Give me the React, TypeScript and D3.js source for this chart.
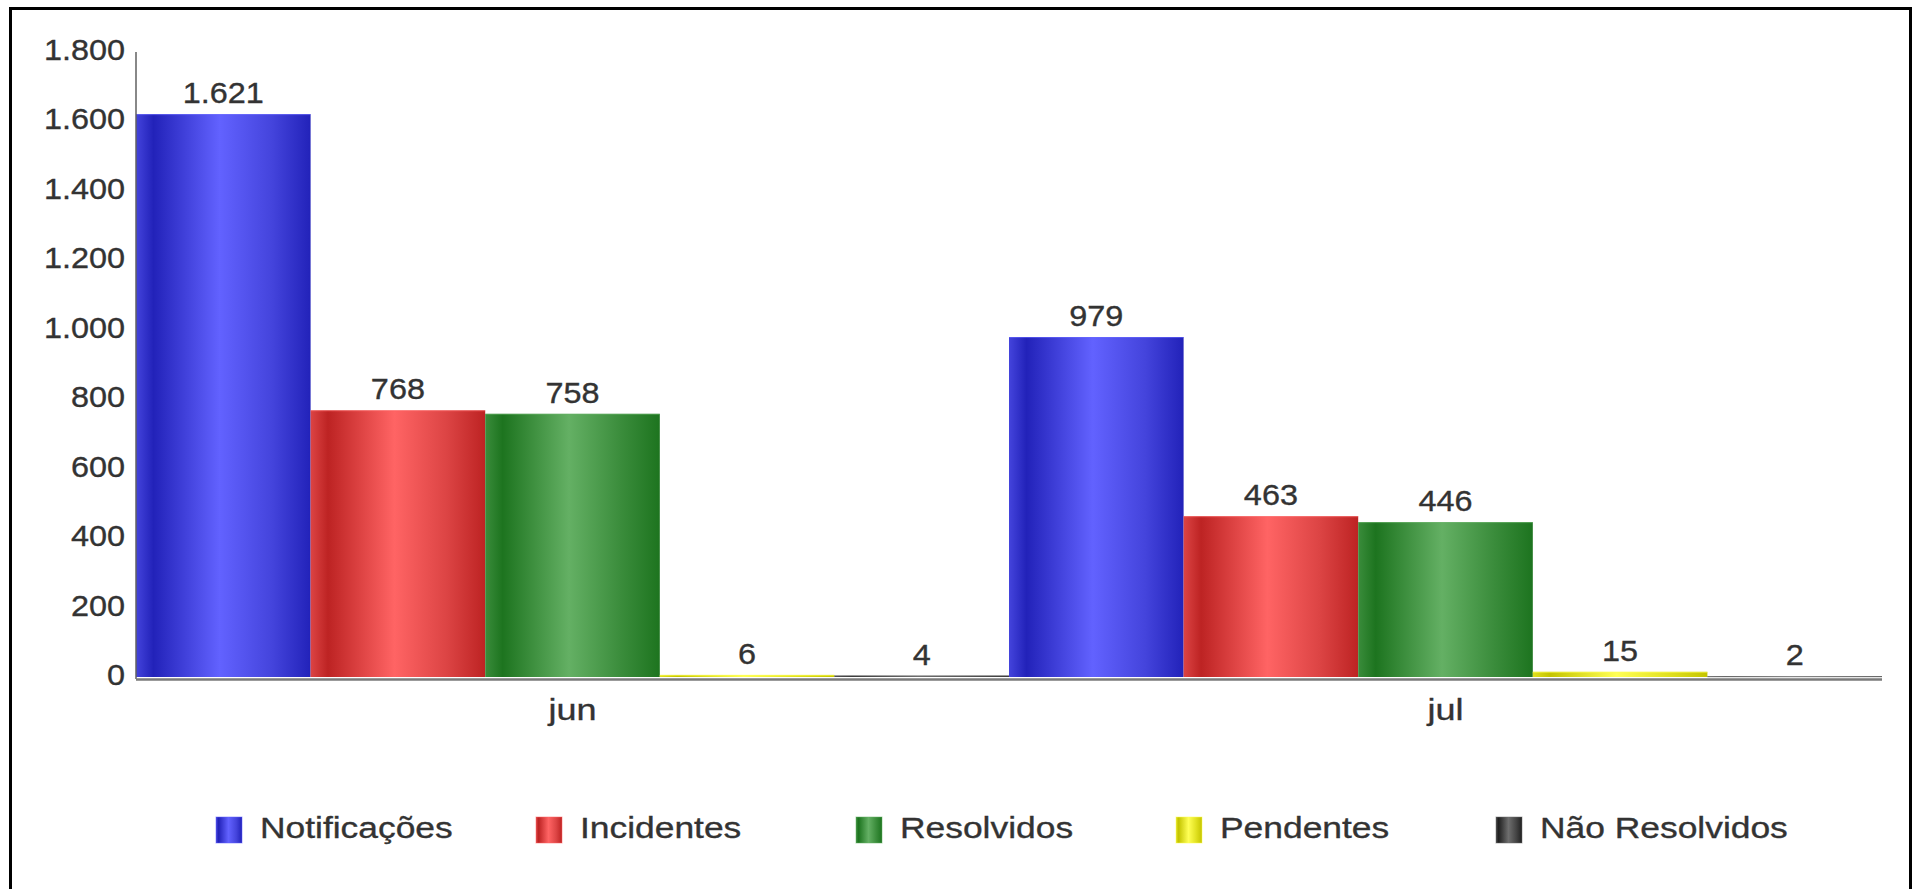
import React from "react";
import * as d3 from "d3";

const categories = ["jun", "jul"];
const seriesNames = ["Notificações", "Incidentes", "Resolvidos", "Pendentes", "Não Resolvidos"];
const notificacoes = [1621, 979];
const incidentes = [768, 463];
const resolvidos = [758, 446];
const pendentes = [6, 15];
const naoResolvidos = [4, 2];
const yTicks = [0, 200, 400, 600, 800, 1000, 1200, 1400, 1600, 1800];
const seriesValues = [notificacoes, incidentes, resolvidos, pendentes, naoResolvidos];

const palette = [
  { dark: "#2222b9", light: "#6262ff", mid: "#4444dc" },
  { dark: "#bd2323", light: "#ff6464", mid: "#dc4444" },
  { dark: "#1d741f", light: "#64b064", mid: "#3a8c3b" },
  { dark: "#c4c400", light: "#ffff55", mid: "#e0e020" },
  { dark: "#202020", light: "#6e6e6e", mid: "#444444" },
];

const W = 1919;
const H = 889;
const plotLeft = 136;
const plotRight = 1882;
const plotTop = 52;
const plotBottom = 677;

const locale = d3.formatLocale({ decimal: ",", thousands: ".", grouping: [3], currency: ["R$", ""] });
const fmt = locale.format(",d");

const FONT = "'Liberation Sans', Arial, Helvetica, sans-serif";
const TEXT = "#333333";

function Txt(props: { x: number; y: number; anchor?: string; sx: number; children: React.ReactNode }) {
  const { x, y, anchor, sx, children } = props;
  return (
    <text
      transform={`translate(${x},${y}) scale(${sx},1)`}
      textAnchor={anchor || "start"}
      fontFamily={FONT}
      fontSize={30}
      fill={TEXT}
      stroke={TEXT}
      strokeWidth={0.35}
    >
      {children}
    </text>
  );
}

export default function App() {
  const x = d3.scaleBand<string>().domain(categories).range([plotLeft, plotRight]).padding(0);
  const xi = d3.scaleBand<string>().domain(seriesNames).range([0, x.bandwidth()]).padding(0);
  const y = d3.scaleLinear().domain([0, 1800]).range([plotBottom, plotTop]);

  return (
    <svg width={W} height={H} style={{ position: "absolute", left: 0, top: 0, background: "#fff" }}>
      <defs>
        {palette.map((p, i) => (
          <linearGradient key={i} id={`g${i}`} x1="0" x2="1" y1="0" y2="0">
            <stop offset="0" stopColor={p.mid} />
            <stop offset="0.1" stopColor={p.dark} />
            <stop offset="0.48" stopColor={p.light} />
            <stop offset="0.78" stopColor={p.mid} />
            <stop offset="1" stopColor={p.dark} />
          </linearGradient>
        ))}
      </defs>
      <rect x={0} y={0} width={W} height={H} fill="#fff" />
      <rect x={10.5} y={8.5} width={1900} height={H + 20} fill="none" stroke="#000" strokeWidth={3} />

      {categories.map((c, ci) => (
        <g key={c} transform={`translate(${x(c)},0)`}>
          {seriesNames.map((s, si) => {
            const v = seriesValues[si][ci];
            const bx = xi(s) as number;
            const bw = xi.bandwidth();
            return (
              <g key={s}>
                <rect x={bx} y={y(v)} width={bw} height={plotBottom - y(v)} fill={`url(#g${si})`} />
                <line x1={bx} x2={bx + bw} y1={y(v) + 0.5} y2={y(v) + 0.5} stroke={palette[si].light} strokeOpacity={0.6} />
                <Txt x={bx + bw / 2} y={y(v) - 11} anchor="middle" sx={1.08}>
                  {fmt(v)}
                </Txt>
              </g>
            );
          })}
        </g>
      ))}

      <line x1={plotLeft} x2={plotLeft} y1={plotTop} y2={plotBottom + 2} stroke="#606060" strokeWidth={1.5} />
      <line x1={plotLeft} x2={plotRight} y1={plotBottom + 2.5} y2={plotBottom + 2.5} stroke="#7a7a7a" strokeWidth={2.5} />

      {yTicks.map((t) => (
        <Txt key={t} x={125} y={y(t) + 8} anchor="end" sx={1.08}>
          {fmt(t)}
        </Txt>
      ))}

      {categories.map((c) => (
        <Txt key={c} x={(x(c) as number) + x.bandwidth() / 2} y={720} anchor="middle" sx={1.2}>
          {c}
        </Txt>
      ))}

      {seriesNames.map((s, i) => {
        const lx = 216 + i * 320;
        return (
          <g key={s}>
            <rect x={lx} y={817} width={26} height={26} fill={`url(#g${i})`} stroke={palette[i].light} strokeOpacity={0.5} strokeWidth={1} />
            <Txt x={lx + 44} y={838} sx={1.18}>
              {s}
            </Txt>
          </g>
        );
      })}
    </svg>
  );
}
